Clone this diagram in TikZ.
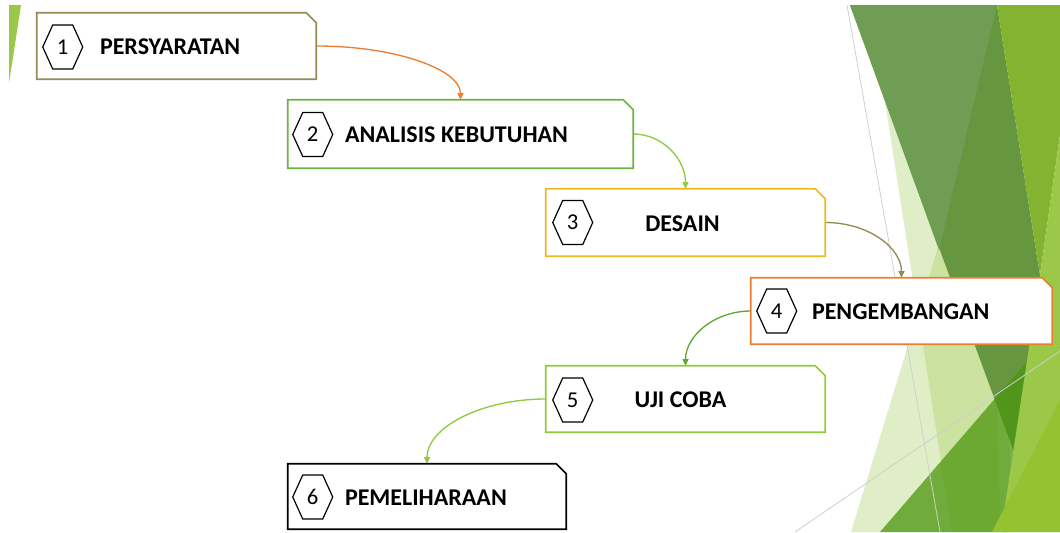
\documentclass[tikz,border=0pt]{standalone}
\usepackage{fontspec}
\setmainfont{Carlito}
\usetikzlibrary{arrows.meta,calc}
\definecolor{cOlive}{HTML}{948A54}
\definecolor{cOrange}{HTML}{ED7D31}
\definecolor{cGreen}{HTML}{6DB33F}
\definecolor{cLight}{HTML}{8FCB3E}
\definecolor{cGold}{HTML}{EDB921}
\definecolor{cArr45}{HTML}{5EA834}
\definecolor{bgSliver}{HTML}{9BC848}
\definecolor{bgDark}{HTML}{66963F}
\definecolor{bgMuted}{HTML}{6F9D54}
\definecolor{bgBright}{HTML}{84B332}
\definecolor{bgYellow}{HTML}{9CC84A}
\definecolor{bgYB}{HTML}{95C231}
\definecolor{bgMid}{HTML}{4B960E}
\definecolor{bgLine}{HTML}{CFCFCF}
\newcommand\chamferbox[2]{\draw[boxline,#2] (#1.south west) -- (#1.north west) -- ([xshift=-7.5pt]#1.north east) -- ([yshift=-7.5pt]#1.north east) -- (#1.south east) -- cycle;}
\newcommand\hexat[1]{\draw[hexline] ($(#1)+(-20,0)$) -- ($(#1)+(-10,-22)$) -- ($(#1)+(10,-22)$) -- ($(#1)+(20,0)$) -- ($(#1)+(10,22)$) -- ($(#1)+(-10,22)$) -- cycle;}
\begin{document}
\begin{tikzpicture}[x=0.75pt,y=-0.75pt,
  boxnode/.style={rectangle, inner sep=0pt, draw=none},
  boxline/.style={line width=1.2pt, fill=white, line join=miter},
  hexline/.style={line width=0.9pt, draw=black},
  num/.style={inner sep=0pt, font=\fontsize{17}{20}\selectfont, text height=10.7pt, text depth=0pt},
  lbl/.style={inner sep=0pt, font=\bfseries\fontsize{18}{21}\selectfont, text height=11.6pt, text depth=0pt},
  arr/.style={line width=1pt, -{Triangle[length=5pt,width=4.5pt]}},
  pale/.style={fill=bgSliver, fill opacity=0.3}]
\useasboundingbox (0,0) rectangle (1060,532);
\fill[white] (0,0) rectangle (1060,532);
% background decoration
\begin{scope}
\clip (0,0) rectangle (1060,532);
\fill[bgSliver] (9,5) -- (21,5) -- (9,83) -- cycle;
\fill[pale] (851,532) -- (986,90) -- (1015,532) -- cycle;
\fill[pale] (870,5) -- (990,5) -- (1000,532) -- (952,532) -- cycle;
\fill[bgDark] (850,5) -- (997,5) -- (1040,275) -- (1014,452) -- cycle;
\fill[bgMuted] (850,5) -- (997,5) -- (939,250) -- cycle;
\fill[bgBright] (997,5) -- (1060,5) -- (1060,135) -- (1040,275) -- cycle;
\fill[bgMid, fill opacity=0.75] (880,532) -- (1030,358) -- (1008,532) -- cycle;
\fill[bgYellow] (1060,135) -- (1060,532) -- (1001,532) -- (1040,275) -- cycle;
\fill[bgYB] (1060,400) -- (1060,532) -- (992,532) -- cycle;
\draw[bgLine, line width=0.6pt] (847,5) -- (940,532);
\draw[bgLine, line width=0.6pt] (795,532) -- (1060,351);
\end{scope}
% boxes
\node[boxnode, minimum width=209.25pt, minimum height=49.5pt] (b1) at (176.5,46) {};
\node[boxnode, minimum width=258.75pt, minimum height=51pt] (b2) at (460.5,134) {};
\node[boxnode, minimum width=209.25pt, minimum height=50.25pt] (b3) at (685.5,222.5) {};
\node[boxnode, minimum width=225.75pt, minimum height=49.5pt] (b4) at (901.5,311) {};
\node[boxnode, minimum width=209.25pt, minimum height=49.5pt] (b5) at (685.5,399) {};
\node[boxnode, minimum width=208.5pt, minimum height=48.75pt] (b6) at (427,496.5) {};
% connectors
\draw[arr, cOrange] (b1.east) .. controls +(80,0) and +(0,-30) .. (b2.north);
\draw[arr, cLight] (b2.east) .. controls +(29,0) and +(0,-30) .. (b3.north);
\draw[arr, cOlive] (b3.east) .. controls +(43,0) and +(0,-30) .. (b4.north);
\draw[arr, cArr45] (b4.west) .. controls +(-36,0) and +(0,-30) .. (b5.north);
\draw[arr, cLight] (b5.west) .. controls +(-65,0) and +(0,-36) .. (b6.north);
\chamferbox{b1}{draw=cOlive}
\chamferbox{b2}{draw=cGreen}
\chamferbox{b3}{draw=cGold}
\chamferbox{b4}{draw=cOrange}
\chamferbox{b5}{draw=cLight}
\chamferbox{b6}{draw=black}
% numbers and hexagons
\node[num] (n1) at ($(b1.west)+(26,1)$) {1};
\node[num] (n2) at ($(b2.west)+(25,0.5)$) {2};
\node[num] (n3) at ($(b3.west)+(27,0)$) {3};
\node[num] (n4) at ($(b4.west)+(26,0)$) {4};
\node[num] (n5) at ($(b5.west)+(27,1)$) {5};
\node[num] (n6) at ($(b6.west)+(25,0.5)$) {6};
\hexat{n1}\hexat{n2}\hexat{n3}\hexat{n4}\hexat{n5}\hexat{n6}
% labels
\node[lbl, anchor=west] (t1) at ($(b1.west)+(63,1)$) {PERSYARATAN};
\node[lbl, anchor=west] (t2) at ($(b2.west)+(57,1)$) {ANALISIS KEBUTUHAN};
\node[lbl] (t3) at ($(b3.center)+(-3,1)$) {DESAIN};
\node[lbl, anchor=west] (t4) at ($(b4.west)+(61,1)$) {PENGEMBANGAN};
\node[lbl] (t5) at ($(b5.center)+(-5,1)$) {UJI COBA};
\node[lbl, anchor=west] (t6) at ($(b6.west)+(57,1)$) {PEMELIHARAAN};
\end{tikzpicture}
\end{document}
